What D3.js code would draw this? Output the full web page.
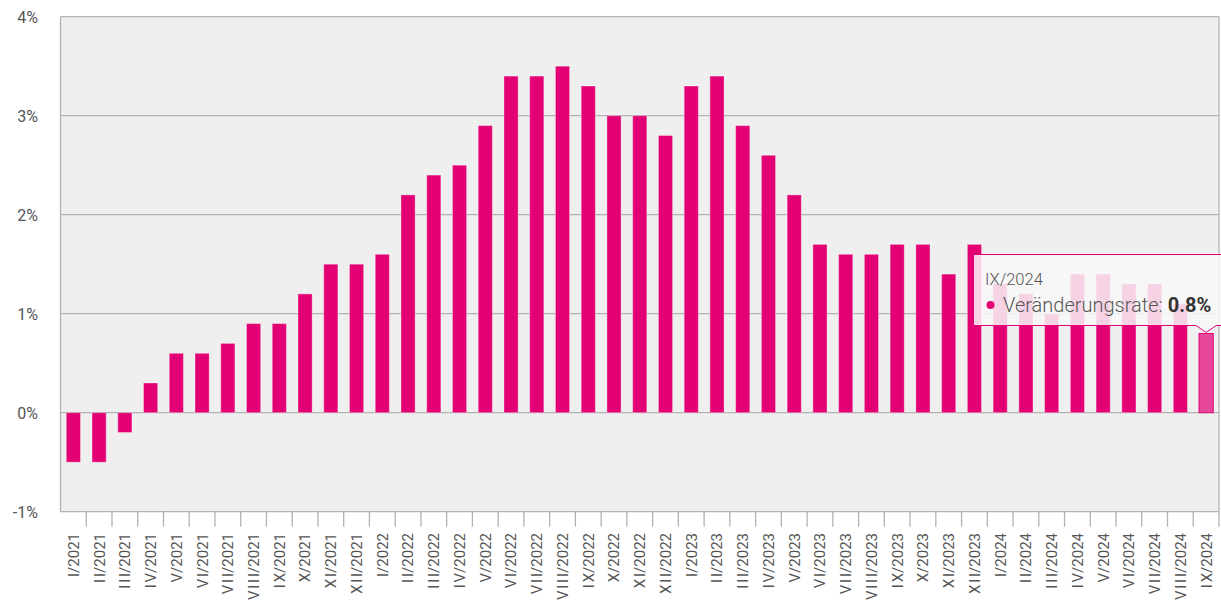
<!DOCTYPE html>
<html>
<head>
<meta charset="utf-8">
<script src="https://cdn.jsdelivr.net/npm/d3@7"></script>
<style>
  body { margin: 0; background: #fff; }
  svg text { font-family: Roboto, "Liberation Sans", sans-serif; }
</style>
</head>
<body>
<div id="chart"></div>
<script>
// months in roman numerals, years of the series
const months = ['I', 'II', 'III', 'IV', 'V', 'VI', 'VII', 'VIII', 'IX', 'X', 'XI', 'XII'];
const years = ['2021', '2022', '2023', '2024'];
// Veränderungsrate in %
const values = [
  -0.5, -0.5, -0.2, 0.3, 0.6, 0.6, 0.7, 0.9, 0.9, 1.2, 1.5, 1.5,
  1.6, 2.2, 2.4, 2.5, 2.9, 3.4, 3.4, 3.5, 3.3, 3.0, 3.0, 2.8,
  3.3, 3.4, 2.9, 2.6, 2.2, 1.7, 1.6, 1.6, 1.7, 1.7, 1.4, 1.7,
  1.3, 1.2, 1.0, 1.4, 1.4, 1.3, 1.3, 1.1, 0.8
];
const yTicks = [-1, 0, 1, 2, 3, 4];
const seriesName = 'Veränderungsrate';
const hoveredIndex = 44;

const periods = years.flatMap(y => months.map(m => `${m}/${y}`)).slice(0, values.length);
const data = periods.map((p, i) => ({period: p, value: values[i]}));

const width = 1221, height = 603;
const plot = {left: 60.5, right: 1219, top: 16.7, bottom: 511.7};

const svg = d3.select('#chart').append('svg')
    .attr('width', width)
    .attr('height', height);

const x = d3.scaleBand()
    .domain(periods)
    .range([plot.left, plot.right])
    .paddingInner(0.45)
    .paddingOuter(0.225);

const y = d3.scaleLinear()
    .domain([d3.min(yTicks), d3.max(yTicks)])
    .range([plot.bottom, plot.top]);

const step = x.step();

// plot background
svg.append('rect')
    .attr('x', plot.left)
    .attr('y', plot.top)
    .attr('width', plot.right - plot.left)
    .attr('height', plot.bottom - plot.top)
    .attr('fill', '#efefef');

// gridlines
svg.append('g').selectAll('line')
    .data(yTicks).join('line')
    .attr('x1', plot.left).attr('x2', plot.right)
    .attr('y1', d => y(d)).attr('y2', d => y(d))
    .attr('stroke', '#b2b2b2')
    .attr('stroke-width', 1.3);

// frame left/right
svg.append('g').selectAll('line')
    .data([plot.left, plot.right]).join('line')
    .attr('x1', d => d).attr('x2', d => d)
    .attr('y1', plot.top).attr('y2', plot.bottom)
    .attr('stroke', '#b2b2b2')
    .attr('stroke-width', 1.3);

// y labels
svg.append('g').selectAll('text')
    .data(yTicks).join('text')
    .attr('x', 38)
    .attr('y', d => y(d))
    .attr('dy', '0.42em')
    .attr('text-anchor', 'end')
    .attr('font-size', 16)
    .attr('fill', '#555')
    .text(d => `${d}%`);

// x ticks (band boundaries)
svg.append('g').selectAll('line')
    .data(periods).join('line')
    .attr('x1', d => x(d) + x.bandwidth() / 2 + step / 2)
    .attr('x2', d => x(d) + x.bandwidth() / 2 + step / 2)
    .attr('y1', plot.bottom)
    .attr('y2', plot.bottom + 15)
    .attr('stroke', '#b2b2b2')
    .attr('stroke-width', 1.3);

// x labels: numeral spaced a little wider than the year
const xLabels = svg.append('g').selectAll('text')
    .data(periods).join('text')
    .attr('transform', d => `translate(${x(d) + x.bandwidth() / 2},533) rotate(-90)`)
    .attr('dy', '0.36em')
    .attr('text-anchor', 'end')
    .attr('font-family', '"Liberation Sans Narrow", "Liberation Sans", sans-serif')
    .attr('font-size', 15)
    .attr('fill', '#555');
xLabels.append('tspan')
    .attr('letter-spacing', 1.8)
    .text(d => d.split('/')[0]);
xLabels.append('tspan')
    .attr('dx', -1.8)
    .text(d => '/' + d.split('/')[1]);

// bars
svg.append('g').selectAll('rect')
    .data(data).join('rect')
    .attr('x', d => x(d.period))
    .attr('width', x.bandwidth())
    .attr('y', d => y(Math.max(0, d.value)))
    .attr('height', d => Math.abs(y(d.value) - y(0)))
    .attr('fill', (d, i) => i === hoveredIndex ? '#e8489b' : '#e20074')
    .attr('stroke', (d, i) => i === hoveredIndex ? '#e20074' : 'rgba(255,255,255,0.35)')
    .attr('stroke-width', 1);

// tooltip
const hov = data[hoveredIndex];
const ax = x(hov.period) + x.bandwidth() / 2;
const ay = y(hov.value) - 1;
const tip = {left: 973.5, top: 254.5, bottom: 325.5};

svg.append('path')
    .attr('d', `M${tip.left},${tip.top} H${width + 20} V${tip.bottom} H${ax + 10} L${ax},${ay} L${ax - 10},${tip.bottom} H${tip.left} Z`)
    .attr('fill', 'rgba(248,248,248,0.85)')
    .attr('stroke', '#e20074')
    .attr('stroke-width', 1);

svg.append('text')
    .attr('x', 985)
    .attr('y', 285)
    .attr('font-size', 16.5)
    .attr('font-weight', 300)
    .attr('fill', '#555')
    .text(hov.period);

svg.append('circle')
    .attr('cx', 990.5)
    .attr('cy', 305)
    .attr('r', 4)
    .attr('fill', '#e20074');

const line2 = svg.append('text')
    .attr('x', 1003)
    .attr('y', 311.5)
    .attr('font-size', 20)
    .attr('font-weight', 300)
    .attr('fill', '#555');
line2.append('tspan').text(`${seriesName}: `);
line2.append('tspan')
    .attr('font-weight', 'bold')
    .attr('fill', '#333')
    .text(`${d3.format('.1f')(hov.value)}%`);
</script>
</body>
</html>
